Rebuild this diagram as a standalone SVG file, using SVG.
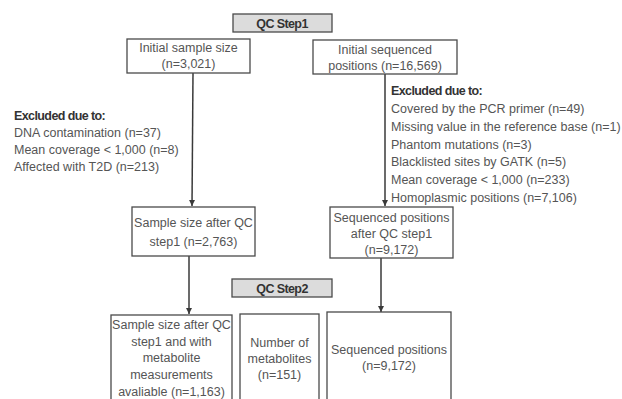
<svg xmlns="http://www.w3.org/2000/svg" width="622" height="399" viewBox="0 0 622 399">
<style>
.box{fill:#ffffff;stroke:#4a4a4a;stroke-width:1.3}
.step{fill:#dcdcdc;stroke:#4a4a4a;stroke-width:1.3}
.t{font-family:"Liberation Sans",Arial,sans-serif;font-size:12.5px;fill:#555555}
.c{text-anchor:middle}
.h{font-family:"Liberation Sans",Arial,sans-serif;font-size:12.5px;font-weight:bold;fill:#333333;letter-spacing:-0.6px}
.line{stroke:#3a3a3a;stroke-width:1.5;fill:none}
</style>
<defs>
<marker id="arr" viewBox="0 0 10 10" refX="10" refY="5" markerWidth="6" markerHeight="6" orient="auto" markerUnits="userSpaceOnUse">
<path d="M0,0 L10,5 L0,10 z" fill="#3a3a3a"/>
</marker>
</defs>
<rect width="622" height="399" fill="#ffffff"/>
<g id="connectors">
<line class="line" x1="193" y1="73" x2="192" y2="206" marker-end="url(#arr)"/>
<line class="line" x1="385" y1="74" x2="385" y2="206" marker-end="url(#arr)"/>
<line class="line" x1="189" y1="256" x2="189" y2="314" marker-end="url(#arr)"/>
<line class="line" x1="381" y1="258" x2="381" y2="312" marker-end="url(#arr)"/>
</g>
<g id="qc-step1">
<rect class="step" x="233" y="14" width="99" height="18"/>
<text class="h c" x="282" y="27.5">QC Step1</text>
</g>
<g id="initial-sample">
<rect class="box" x="127" y="39" width="123" height="34"/>
<text class="t c" x="188.5" y="52">Initial sample size</text>
<text class="t c" x="188.5" y="68">(n=3,021)</text>
</g>
<g id="initial-positions">
<rect class="box" x="313" y="40" width="144" height="34"/>
<text class="t c" x="385" y="54">Initial sequenced</text>
<text class="t c" x="385" y="69.5">positions (n=16,569)</text>
</g>
<g id="excluded-left">
<text class="h" x="14" y="119.5">Excluded due to:</text>
<text class="t" x="14" y="136.5">DNA contamination (n=37)</text>
<text class="t" x="14" y="153.5">Mean coverage &lt; 1,000 (n=8)</text>
<text class="t" x="14" y="170.5">Affected with T2D (n=213)</text>
</g>
<g id="excluded-right">
<text class="h" x="391" y="94.5">Excluded due to:</text>
<text class="t" x="391" y="112.5">Covered by the PCR primer (n=49)</text>
<text class="t" x="391" y="130.5">Missing value in the reference base (n=1)</text>
<text class="t" x="391" y="148.5">Phantom mutations (n=3)</text>
<text class="t" x="391" y="166">Blacklisted sites by GATK (n=5)</text>
<text class="t" x="391" y="183.5">Mean coverage &lt; 1,000 (n=233)</text>
<text class="t" x="391" y="201.5">Homoplasmic positions (n=7,106)</text>
</g>
<g id="sample-after-qc1">
<rect class="box" x="132" y="207" width="123" height="49"/>
<text class="t c" x="193.5" y="227">Sample size after QC</text>
<text class="t c" x="193.5" y="246">step1 (n=2,763)</text>
</g>
<g id="positions-after-qc1">
<rect class="box" x="330" y="207" width="123" height="51"/>
<text class="t c" x="391.5" y="221.5">Sequenced positions</text>
<text class="t c" x="391.5" y="237.5">after QC step1</text>
<text class="t c" x="391.5" y="254">(n=9,172)</text>
</g>
<g id="qc-step2">
<rect class="step" x="232" y="279" width="100" height="18"/>
<text class="h c" x="282" y="292.5">QC Step2</text>
</g>
<g id="sample-metabolite">
<rect class="box" x="111" y="315" width="121" height="100"/>
<text class="t c" x="171.5" y="328.5">Sample size after QC</text>
<text class="t c" x="171.5" y="345.5">step1 and with</text>
<text class="t c" x="171.5" y="362">metabolite</text>
<text class="t c" x="171.5" y="378.5">measurements</text>
<text class="t c" x="171.5" y="395.5">avaliable (n=1,163)</text>
</g>
<g id="metabolites">
<rect class="box" x="240" y="314" width="79" height="100"/>
<text class="t c" x="279.5" y="346.5">Number of</text>
<text class="t c" x="279.5" y="362.5">metabolites</text>
<text class="t c" x="279.5" y="378.5">(n=151)</text>
</g>
<g id="sequenced-positions">
<rect class="box" x="327" y="312" width="124" height="100"/>
<text class="t c" x="389" y="353.5">Sequenced positions</text>
<text class="t c" x="389" y="369.5">(n=9,172)</text>
</g>
</svg>
